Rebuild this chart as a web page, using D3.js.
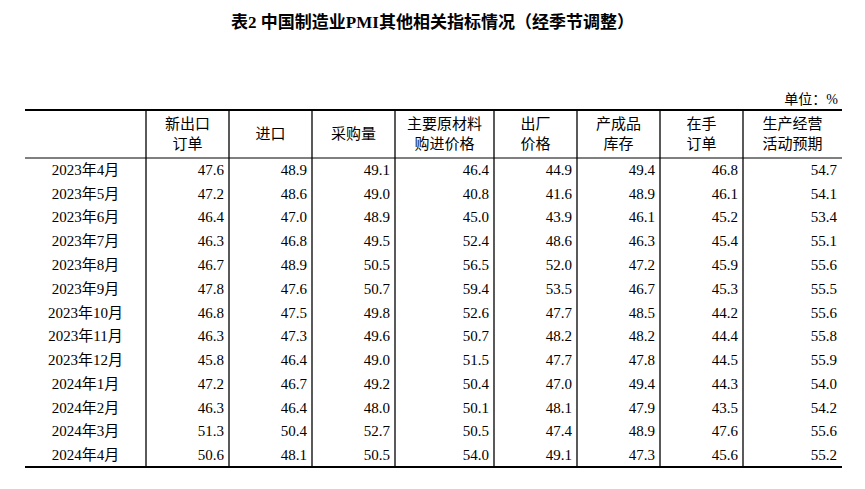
<!DOCTYPE html>
<html><head><meta charset="utf-8">
<script src="https://cdn.jsdelivr.net/npm/d3@7"></script>
<style>body{margin:0;background:#fff}</style>
</head><body><div id="chart"></div>
<script>
var months = ["2023年4月","2023年5月","2023年6月","2023年7月","2023年8月","2023年9月","2023年10月","2023年11月","2023年12月","2024年1月","2024年2月","2024年3月","2024年4月"];
var headers = [["新出口","订单"],["进口"],["采购量"],["主要原材料","购进价格"],["出厂","价格"],["产成品","库存"],["在手","订单"],["生产经营","活动预期"]];
var newExport = [47.6,47.2,46.4,46.3,46.7,47.8,46.8,46.3,45.8,47.2,46.3,51.3,50.6];
var imports   = [48.9,48.6,47.0,46.8,48.9,47.6,47.5,47.3,46.4,46.7,46.4,50.4,48.1];
var purchase  = [49.1,49.0,48.9,49.5,50.5,50.7,49.8,49.6,49.0,49.2,48.0,52.7,50.5];
var inputPrice= [46.4,40.8,45.0,52.4,56.5,59.4,52.6,50.7,51.5,50.4,50.1,50.5,54.0];
var outPrice  = [44.9,41.6,43.9,48.6,52.0,53.5,47.7,48.2,47.7,47.0,48.1,47.4,49.1];
var finished  = [49.4,48.9,46.1,46.3,47.2,46.7,48.5,48.2,47.8,49.4,47.9,48.9,47.3];
var backlog   = [46.8,46.1,45.2,45.4,45.9,45.3,44.2,44.4,44.5,44.3,43.5,47.6,45.6];
var expect    = [54.7,54.1,53.4,55.1,55.6,55.5,55.6,55.8,55.9,54.0,54.2,55.6,55.2];
var series = [newExport,imports,purchase,inputPrice,outPrice,finished,backlog,expect];

var W = 865, H = 489;
var font = "'Liberation Serif','Noto Sans CJK SC',serif";
var svg = d3.select("#chart").append("svg").attr("width", W).attr("height", H)
  .style("font-family", font);

// column edges
var edges = [25,146,229,312,395,494,577,660,743,842];
var tableTop = 110, headBottom = 158, tableBottom = 467;
var y = d3.scaleBand().domain(d3.range(months.length)).range([headBottom, tableBottom]);

svg.append("text").attr("x", W/2).attr("y", 28).attr("text-anchor","middle")
  .attr("font-size", 17).attr("font-weight","bold").text("表2 中国制造业PMI其他相关指标情况（经季节调整）");
svg.append("text").attr("x", 838).attr("y", 104).attr("text-anchor","end")
  .attr("font-size", 14).text("单位：%");

// horizontal rules
[[tableTop,2],[headBottom,1],[tableBottom,2]].forEach(function(r){
  svg.append("line").attr("x1",edges[0]).attr("x2",edges[9]).attr("y1",r[0]).attr("y2",r[0])
    .attr("stroke","#000").attr("stroke-width",r[1]);
});
// vertical rules
edges.slice(1,9).forEach(function(x){
  svg.append("line").attr("x1",x).attr("x2",x).attr("y1",tableTop).attr("y2",tableBottom)
    .attr("stroke","#000").attr("stroke-width",1.3);
});

// headers
headers.forEach(function(h,i){
  var cx = (edges[i+1]+edges[i+2])/2, cy = (tableTop+headBottom)/2;
  h.forEach(function(t,j){
    svg.append("text").attr("x",cx).attr("y",cy + (j-(h.length-1)/2)*20 + 5)
      .attr("text-anchor","middle").attr("font-size",15).text(t);
  });
});

// rows
months.forEach(function(m,r){
  var cy = y(r) + y.bandwidth()/2 + 5;
  svg.append("text").attr("x",(edges[0]+edges[1])/2).attr("y",cy)
    .attr("text-anchor","middle").attr("font-size",15).text(m);
  series.forEach(function(s,c){
    svg.append("text").attr("x",edges[c+2]-5).attr("y",cy)
      .attr("text-anchor","end").attr("font-size",15).text(s[r].toFixed(1));
  });
});
</script></body></html>
